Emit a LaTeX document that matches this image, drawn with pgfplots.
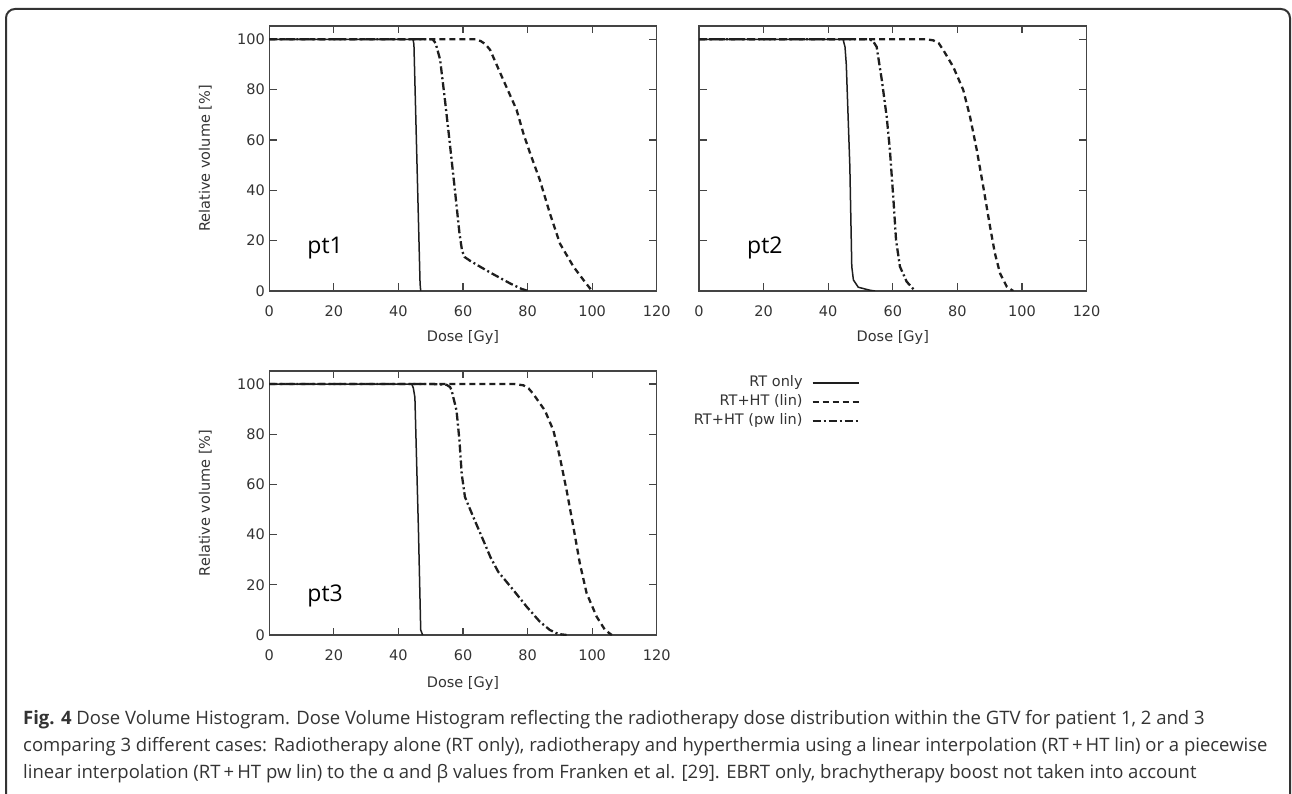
\documentclass[border=0pt]{standalone}
\usepackage{pgfplots}
\pgfplotsset{compat=1.18}
\usepackage{fontspec}
\setmainfont{Open Sans}
\newfontfamily\dejavu{DejaVu Sans}

\definecolor{curve}{HTML}{1E1E1E}
\definecolor{axisgray}{HTML}{444444}
\definecolor{txt}{HTML}{333333}

\pgfplotsset{
  dvhplot/.style={
    scale only axis,
    xmin=0, xmax=120, ymin=0,
    xtick={0,20,...,120}, ytick={0,20,...,100},
    tick align=inside,
    major tick length=7.5pt,
    axis line style={line width=1.4pt, axisgray},
    tick style={line width=1.2pt, axisgray},
    ticklabel style={font=\dejavu\fontsize{14.5}{17}\selectfont, text=txt},
    xticklabel style={yshift=-11pt},
    yticklabel style={xshift=-1pt},
    /pgf/number format/assume math mode=true,
    label style={font=\dejavu\fontsize{14.5}{17}\selectfont, text=txt},
    ylabel={Relative volume [\%]},
    xlabel={Dose [Gy]},
    ylabel style={at={(axis description cs:-0.165,0.5)}, anchor=center, rotate=0},
  },
  rt/.style={curve, line width=1.5pt, solid},
  lin/.style={curve, line width=2.3pt, dash pattern=on 6pt off 4pt},
  pw/.style={curve, line width=2.3pt, dash pattern=on 8pt off 3pt on 2pt off 3pt},
}

\begin{document}
\begin{tikzpicture}[x=1pt,y=1pt]
\useasboundingbox (0,0) rectangle (1292,793);
\draw[line width=2pt, black!80, rounded corners=9pt] (6,-20) -- (6,784) -- (1290,784) -- (1290,-20);

% pt1
\begin{axis}[dvhplot, at={(269.3pt,502pt)}, anchor=south west,
  width=387.4pt, height=265pt, ymax=105.3,
  xlabel style={at={(axis description cs:0.5,-0.177)}, anchor=center}]
\addplot[rt] coordinates {(0,100) (44.5,100) (44.8,98) (46.7,3) (46.9,0)};
\addplot[lin] coordinates {(0,100) (64,100) (65.5,99.3) (67,98) (68.4,95.8) (72.5,83.8)
  (76.6,72) (78.7,62.6) (80.8,54.7) (83.8,44.1) (86.9,30.9) (90.0,18.9) (94.2,9.7)
  (97.3,4.4) (99.3,1.1) (99.9,0)};
\addplot[pw] coordinates {(0,100) (50.6,100) (51.5,98.5) (52.9,92) (54.4,76) (55.8,60)
  (57.5,40) (58.9,23) (59.7,16) (60.5,13.5) (62.2,12) (65.5,9.5) (68.9,7) (74.6,3)
  (78.2,0.8) (80.2,0)};
\node[font=\fontsize{23}{26}\selectfont, text=black] at (axis cs:17.3,17.1) {pt1};
\end{axis}

% pt2
\begin{axis}[dvhplot, at={(699pt,502pt)}, anchor=south west,
  width=387.6pt, height=265pt, ymax=105.3, yticklabels={}, ylabel={},
  xlabel style={at={(axis description cs:0.5,-0.177)}, anchor=center}]
\addplot[rt] coordinates {(0,100) (44.6,100) (45.2,97) (45.6,90) (46.7,49.4) (47.3,9.7)
  (47.8,4.4) (49.3,1.5) (52.9,0.3) (54.5,0)};
\addplot[lin] coordinates {(0,100) (70.5,100) (72.5,99.6) (74.2,98.5) (75.6,95.8)
  (78.7,89.1) (81.8,79.9) (83.9,69.3) (86.0,56) (88.0,41.5) (90.1,25.6) (91.6,15)
  (93.2,7) (95.3,1.7) (97.3,0)};
\addplot[pw] coordinates {(0,100) (52.5,100) (53.8,99.5) (55.0,97) (56.6,83.8) (58.1,69.3)
  (59.1,56) (60.2,36.2) (61.0,20.3) (62.2,9.7) (64.3,3.7) (66.9,0)};
\node[font=\fontsize{23}{26}\selectfont, text=black] at (axis cs:20.4,17.1) {pt2};
\end{axis}

% pt3
\begin{axis}[dvhplot, at={(269.3pt,158pt)}, anchor=south west,
  width=387.4pt, height=264pt, ymax=105.2,
  xlabel style={at={(axis description cs:0.5,-0.182)}, anchor=center},
  legend style={at={(axis description cs:1.525,0.978)}, anchor=north east,
    draw=none, fill=none, inner sep=0pt, row sep=7.5pt, column sep=9pt,
    font=\dejavu\fontsize{14.5}{17}\selectfont, text=txt,
    nodes={inner sep=0pt, text height=9.5pt, text depth=2pt}},
  legend cell align=right, legend plot pos=right,
  legend image code/.code={\draw[#1] (0pt,0pt) -- (46pt,0pt);}]
\addplot[rt] coordinates {(0,100) (44.1,100) (44.6,98.5) (45.1,94.7) (46.2,41.7)
  (46.9,2) (47.5,0)};
\addplot[lin] coordinates {(0,100) (76,100) (78.7,99.5) (80.3,98.3) (81.8,96) (85.4,89.4)
  (88.0,81.5) (90.0,70.9) (92.1,57.6) (94.2,43) (96.2,28.5) (98.3,16.6) (101.4,7.3)
  (104.0,2) (106.1,0)};
\addplot[pw] coordinates {(0,100) (50.8,100) (54.9,99.7) (56.0,98.8) (56.5,97.4)
  (58.0,89.4) (58.9,77.5) (59.6,64.2) (60.6,55) (63.2,47) (66.3,37.7) (68.5,31)
  (70.9,25.2) (75.6,17.9) (79.7,11.3) (83.8,5.3) (86.9,2) (89.5,0.4) (92.1,0)};
\legend{RT only, RT+HT (lin), RT+HT (pw lin)}
\node[font=\fontsize{23}{26}\selectfont, text=black] at (axis cs:17.3,15.6) {pt3};
\end{axis}

% caption (anchor base = baseline of the last line)
\node[anchor=base west, align=left, text=txt, inner sep=0pt,
  font=\fontsize{18.5}{27}\selectfont] at (23,15)
  {\textbf{Fig. 4} Dose Volume Histogram. Dose Volume Histogram reflecting the radiotherapy dose distribution within the GTV for patient 1, 2 and 3\\
   comparing 3 different cases: Radiotherapy alone (RT only), radiotherapy and hyperthermia using a linear interpolation (RT\,+\,HT lin) or a piecewise\\
   linear interpolation (RT\,+\,HT pw lin) to the α and β values from Franken et al. [29]. EBRT only, brachytherapy boost not taken into account};
\end{tikzpicture}
\end{document}
